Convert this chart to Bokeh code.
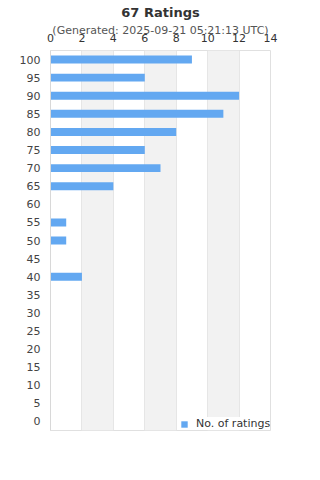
from bokeh.plotting import figure
from bokeh.models import (FactorRange, Range1d, LinearAxis, CategoricalAxis, Title,
                          Legend, LegendItem, ColumnDataSource, SingleIntervalTicker)
from bokeh.embed import file_html
from bokeh.resources import INLINE

title_text = "67 Ratings"
subtitle_text = "(Generated: 2025-09-21 05:21:13 UTC)"
series_name = "No. of ratings"
ratings = ["100", "95", "90", "85", "80", "75", "70", "65", "60", "55", "50",
           "45", "40", "35", "30", "25", "20", "15", "10", "5", "0"]
counts = [9, 6, 12, 11, 8, 6, 7, 4, 0, 1, 1, 0, 2, 0, 0, 0, 0, 0, 0, 0, 0]

FONT = "DejaVu Sans"
BAR = "#63a8f1"

src = ColumnDataSource(dict(r=ratings, c=counts))

p = figure(width=320, height=480, output_backend="svg", toolbar_location=None,
           y_range=FactorRange(factors=list(reversed(ratings))),
           x_range=Range1d(0, 14), x_axis_location=None, y_axis_location=None,
           min_border_left=50, min_border_right=50, min_border_top=50, min_border_bottom=50)
p.background_fill_color = "white"
p.border_fill_color = "white"
p.outline_line_color = "#e0e0e0"

p.title = Title(text=title_text, align="center", text_font=FONT, text_font_size="13px",
                text_font_style="bold", text_color="#333333", standoff=2)

bars = p.hbar(y="r", right="c", left=0, height=0.44, source=src,
              fill_color=BAR, line_color=None)

xaxis = LinearAxis(ticker=SingleIntervalTicker(interval=2), axis_label=subtitle_text)
xaxis.major_tick_out = 0
xaxis.major_tick_in = 0
xaxis.minor_tick_out = 0
xaxis.minor_tick_in = 0
xaxis.axis_line_color = None
xaxis.major_label_standoff = 9
xaxis.major_label_text_font = FONT
xaxis.major_label_text_font_size = "11px"
xaxis.major_label_text_color = "#333333"
xaxis.axis_label_standoff = -6
xaxis.axis_label_text_font = FONT
xaxis.axis_label_text_font_size = "11px"
xaxis.axis_label_text_font_style = "normal"
xaxis.axis_label_text_color = "#555555"
p.add_layout(xaxis, "above")

yaxis = CategoricalAxis()
yaxis.major_tick_out = 0
yaxis.major_tick_in = 0
yaxis.axis_line_color = "#d8d8d8"
yaxis.major_label_standoff = 10
yaxis.major_label_text_font = FONT
yaxis.major_label_text_font_size = "11px"
yaxis.major_label_text_color = "#444444"
p.add_layout(yaxis, "left")

p.xgrid.ticker = xaxis.ticker
p.xgrid.grid_line_color = "#e6e6e6"
p.xgrid.band_fill_color = "#f2f2f2"
p.xgrid.band_fill_alpha = 1
p.ygrid.grid_line_color = None

legend = Legend(items=[LegendItem(label=series_name, renderers=[bars])],
                location=(130, 0), orientation="horizontal",
                glyph_width=8, glyph_height=8, label_standoff=8,
                label_height=12, padding=5, margin=0,
                label_text_font=FONT, label_text_font_size="11px",
                label_text_color="#333333", border_line_color=None,
                background_fill_color="white", background_fill_alpha=1)
p.add_layout(legend, "center")

open("out.html", "w").write(file_html(p, INLINE))
